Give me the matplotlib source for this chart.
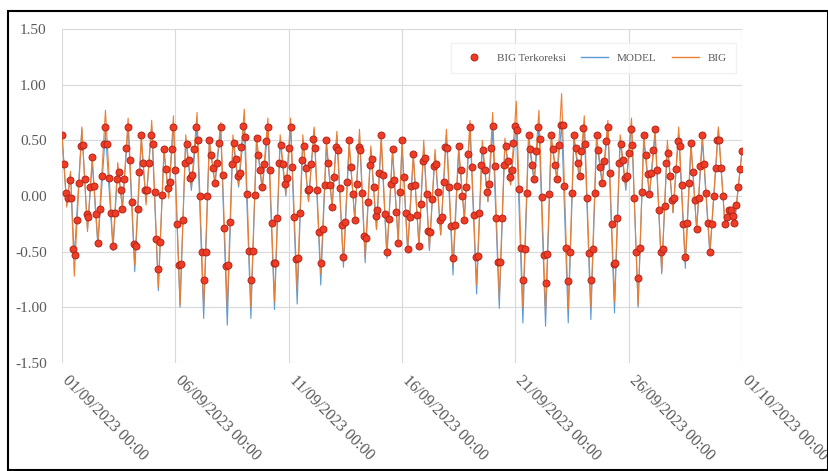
import numpy as np
import matplotlib.pyplot as plt
import matplotlib.dates as mdates
import matplotlib.transforms as mtransforms
from matplotlib.lines import Line2D
from matplotlib.patches import Rectangle

plt.rcParams['font.family'] = ['Liberation Serif', 'DejaVu Serif']

# jam sejak 01/09/2023 00:00 untuk tiap titik balik (pasang / surut)
jam_ekstrem = [0, 5, 9, 13, 21, 27, 32, 38, 46, 54, 59, 64, 70, 77, 84, 89, 95, 102, 108, 113,
               118, 125, 131, 137, 143, 150, 156, 162, 168, 175, 181, 187,
               193, 200, 206, 212, 218, 225, 231, 237, 242, 249, 255, 261,
               267, 274, 280, 286, 291, 298, 304, 310, 315, 321, 327, 333,
               338, 344, 350, 356, 360, 366, 372, 378, 383, 389, 395, 401,
               407, 414, 420, 426, 432, 439, 445, 451, 456, 463, 469, 475,
               481, 488, 494, 500, 505, 512, 518, 524, 529, 536, 542, 548,
               553, 560, 566, 572, 578, 585, 591, 597, 603, 610, 616, 622,
               628, 635, 641, 647, 653, 660, 666, 672,
               678, 686, 695, 702, 707, 712, 720]

model = [0.55, -0.08, 0.20, -0.55, 0.60, -0.30, 0.30, -0.45, 0.58, -0.49,
         0.25, -0.10, 0.62, -0.68, 0.50, -0.05, 0.62, -0.85, 0.40, 0.00,
         0.65, -1.00, 0.50, 0.05, 0.62, -1.10, 0.48, 0.10, 0.60, -1.16, 0.50, 0.08,
         0.62, -1.10, 0.50, 0.05, 0.60, -1.02, 0.50, 0.00, 0.62, -0.97, 0.50, -0.05,
         0.60, -0.80, 0.45, -0.10, 0.55, -0.64, 0.45, -0.20, 0.55, -0.60, 0.42, -0.30,
         0.50, -0.56, 0.40, -0.40, 0.45, -0.50, 0.35, -0.45, 0.45, -0.49, 0.38, -0.35,
         0.55, -0.71, 0.40, -0.20, 0.60, -0.88, 0.45, -0.05, 0.60, -1.01, 0.48, 0.10,
         0.65, -1.14, 0.50, 0.12, 0.62, -1.17, 0.50, 0.15, 0.65, -1.14, 0.50, 0.15,
         0.62, -1.11, 0.50, 0.10, 0.60, -1.05, 0.50, 0.05, 0.65, -1.00, 0.50, 0.00,
         0.55, -0.70, 0.45, -0.15, 0.55, -0.65, 0.45, -0.30,
         0.50, -0.53, 0.60, -0.28, -0.12, -0.26, 0.40]

big = [0.55, -0.10, 0.22, -0.72, 0.62, -0.32, 0.35, -0.42, 0.77, -0.45,
       0.30, -0.12, 0.70, -0.62, 0.55, -0.08, 0.68, -0.82, 0.42, -0.02,
       0.72, -0.98, 0.55, 0.08, 0.75, -1.00, 0.50, 0.12, 0.66, -1.00, 0.55, 0.10,
       0.78, -1.00, 0.52, 0.08, 0.70, -0.95, 0.55, 0.02, 0.70, -0.85, 0.55, -0.05,
       0.62, -0.70, 0.50, -0.10, 0.58, -0.60, 0.50, -0.22, 0.60, -0.55, 0.45, -0.30,
       0.55, -0.52, 0.42, -0.42, 0.50, -0.48, 0.38, -0.45, 0.50, -0.47, 0.42, -0.35,
       0.60, -0.62, 0.45, -0.22, 0.68, -0.80, 0.50, -0.05, 0.75, -0.92, 0.52, 0.10,
       0.85, -1.00, 0.55, 0.15, 0.77, -1.05, 0.55, 0.15, 0.92, -1.02, 0.55, 0.18,
       0.72, -1.00, 0.55, 0.12, 0.68, -0.95, 0.55, 0.08, 0.70, -0.98, 0.55, 0.02,
       0.60, -0.68, 0.50, -0.15, 0.62, -0.60, 0.48, -0.30,
       0.55, -0.50, 0.62, -0.25, -0.10, -0.24, 0.40]

# BIG terkoreksi, tiap 2 jam (satu baris = satu hari, jam 00 s/d 22)
big_koreksi = [
    [0.55, 0.29, 0.03, -0.02, 0.14, -0.02, -0.48, -0.53, -0.22, 0.12, 0.45, 0.46],
    [0.15, -0.16, -0.19, 0.08, 0.35, 0.09, -0.16, -0.42, -0.12, 0.18, 0.47, 0.62],
    [0.47, 0.16, -0.15, -0.45, -0.15, 0.15, 0.22, 0.05, -0.12, 0.15, 0.43, 0.62],
    [0.32, -0.05, -0.43, -0.45, -0.12, 0.22, 0.55, 0.30, 0.05, 0.05, 0.30, 0.55],
    [0.47, 0.04, -0.39, -0.66, -0.41, 0.01, 0.42, 0.24, 0.07, 0.13, 0.42, 0.62],
    [0.23, -0.25, -0.62, -0.61, -0.22, 0.30, 0.47, 0.32, 0.16, 0.19, 0.42, 0.62],
    [0.50, 0.00, -0.50, -0.75, -0.50, 0.00, 0.50, 0.37, 0.25, 0.12, 0.30, 0.48],
    [0.62, 0.19, -0.29, -0.63, -0.62, -0.23, 0.29, 0.48, 0.33, 0.18, 0.21, 0.44],
    [0.63, 0.53, 0.02, -0.49, -0.75, -0.49, 0.01, 0.52, 0.37, 0.23, 0.08, 0.29],
    [0.49, 0.62, 0.23, -0.24, -0.60, -0.60, -0.20, 0.30, 0.46, 0.29, 0.11, 0.16],
    [0.43, 0.62, 0.26, -0.19, -0.57, -0.56, -0.15, 0.32, 0.45, 0.25, 0.05, 0.06],
    [0.29, 0.51, 0.43, 0.05, -0.32, -0.60, -0.30, 0.10, 0.50, 0.30, 0.10, -0.10],
    [0.17, 0.44, 0.41, 0.07, -0.26, -0.55, -0.23, 0.13, 0.50, 0.26, 0.02, -0.22],
    [0.11, 0.44, 0.41, 0.03, -0.36, -0.38, -0.05, 0.28, 0.33, 0.08, -0.18, -0.13],
    [0.21, 0.55, 0.19, -0.16, -0.50, -0.21, 0.11, 0.42, 0.14, -0.14, -0.42, 0.04],
    [0.50, 0.17, -0.15, -0.48, -0.19, 0.09, 0.38, 0.10, -0.17, -0.45, -0.07, 0.31],
    [0.34, 0.02, -0.31, -0.32, -0.03, 0.27, 0.29, 0.04, -0.22, -0.19, 0.13, 0.44],
    [0.43, 0.08, -0.27, -0.56, -0.26, 0.09, 0.45, 0.23, 0.00, -0.22, 0.08, 0.38],
    [0.62, 0.26, -0.17, -0.55, -0.54, -0.15, 0.28, 0.41, 0.23, 0.04, 0.11, 0.43],
    [0.63, 0.27, -0.20, -0.59, -0.59, -0.20, 0.28, 0.45, 0.31, 0.17, 0.23, 0.48],
    [0.63, 0.59, 0.06, -0.47, -0.75, -0.48, 0.03, 0.55, 0.42, 0.28, 0.15, 0.40],
    [0.62, 0.51, -0.01, -0.53, -0.78, -0.52, 0.02, 0.55, 0.42, 0.28, 0.15, 0.46],
    [0.64, 0.64, 0.09, -0.47, -0.76, -0.50, 0.03, 0.55, 0.43, 0.30, 0.18, 0.40],
    [0.61, 0.47, -0.02, -0.51, -0.75, -0.48, 0.03, 0.55, 0.41, 0.26, 0.12, 0.31],
    [0.49, 0.62, 0.21, -0.25, -0.61, -0.60, -0.20, 0.30, 0.47, 0.32, 0.16, 0.18],
    [0.39, 0.60, 0.46, -0.02, -0.50, -0.74, -0.47, 0.04, 0.55, 0.37, 0.20, 0.02],
    [0.21, 0.41, 0.60, 0.23, -0.13, -0.50, -0.48, -0.09, 0.30, 0.39, 0.18, -0.04],
    [-0.02, 0.24, 0.49, 0.45, 0.10, -0.25, -0.55, -0.24, 0.12, 0.48, 0.22, -0.04],
    [-0.30, -0.02, 0.27, 0.55, 0.29, 0.03, -0.24, -0.50, -0.25, 0.00, 0.25, 0.50],
    [0.50, 0.25, 0.00, -0.25, -0.19, -0.13, -0.13, -0.18, -0.24, -0.08, 0.08, 0.24, 0.40],
]

mulai = np.datetime64('2023-09-01T00:00')
waktu_ekstrem = mulai + np.array(jam_ekstrem, dtype='timedelta64[h]')
titik = np.concatenate([np.array(b) for b in big_koreksi])
waktu_titik = mulai + np.arange(len(titik)) * np.timedelta64(2, 'h')

fig = plt.figure(figsize=(8.29, 4.71), dpi=100)
ax = fig.add_axes([62 / 829, 1 - 363 / 471, 680 / 829, 334 / 471])

ax.plot(waktu_ekstrem, model, color='#5b9bd5', lw=0.8, zorder=2)
ax.plot(waktu_ekstrem, big, color='#ed7d31', lw=0.8, zorder=3)
ax.plot(waktu_titik, titik, ls='none', marker='o', ms=5,
        mfc='#f03c24', mec='#b3261a', mew=0.7, zorder=4)

ax.set_xlim(mulai, mulai + np.timedelta64(30, 'D'))
ax.set_ylim(-1.5, 1.5)
ax.set_yticks(np.arange(-1.5, 1.51, 0.5))
ax.yaxis.set_major_formatter(plt.FuncFormatter(lambda v, p: f'{v:.2f}'))
ax.xaxis.set_major_locator(mdates.DayLocator(bymonthday=[1, 6, 11, 16, 21, 26]))
ax.xaxis.set_major_formatter(mdates.DateFormatter('%d/%m/%Y %H:%M'))

ax.grid(True, color='#d9d9d9', lw=0.8, zorder=0)
ax.set_axisbelow(True)
for s in ax.spines.values():
    s.set_visible(False)
ax.tick_params(axis='both', length=0, labelcolor='#595959', labelsize=11)
ax.tick_params(axis='y', pad=11)
ax.tick_params(axis='x', pad=7, labelsize=11.5)
geser = mtransforms.ScaledTranslation(6 / 72, 0, fig.dpi_scale_trans)
for lbl in ax.get_xticklabels():
    lbl.set_rotation(-45)
    lbl.set_ha('left')
    lbl.set_va('top')
    lbl.set_rotation_mode('anchor')
    lbl.set_transform(lbl.get_transform() + geser)

tanda = [
    Line2D([], [], ls='none', marker='o', ms=5, mfc='#f03c24', mec='#b3261a', mew=0.7),
    Line2D([], [], color='#5b9bd5', lw=1),
    Line2D([], [], color='#ed7d31', lw=1),
]
leg = ax.legend(tanda, ['BIG Terkoreksi', 'MODEL', 'BIG'], loc='upper right',
                bbox_to_anchor=(1.0, 0.975), ncol=3, fontsize=8, frameon=True,
                fancybox=False, edgecolor='#eeeeee', handlelength=2.4,
                columnspacing=1.4, borderpad=0.9)
for t in leg.get_texts():
    t.set_color('#595959')

fig.add_artist(Rectangle((8 / 829, 1 - 470 / 471), 820 / 829, 459 / 471,
                         transform=fig.transFigure, fill=False, ec='black', lw=1.5))

fig.savefig('out.png', dpi=100)
